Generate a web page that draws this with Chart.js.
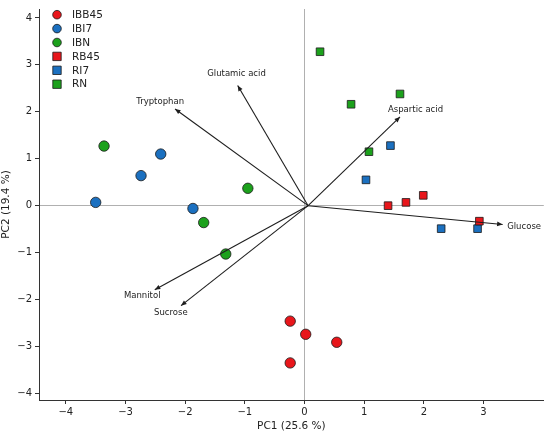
<!DOCTYPE html>
<html>
<head>
<meta charset="utf-8">
<script src="https://cdn.jsdelivr.net/npm/chart.js@4/dist/chart.umd.min.js"></script>
<style>
  html, body { margin: 0; padding: 0; background: #fff; }
  #wrap { width: 550px; height: 435px; }
</style>
</head>
<body>
<div id="wrap"><canvas id="pca" width="550" height="435"></canvas></div>
<script>
// scores (PC1, PC2) per group
const groups = ['IBB45', 'IBI7', 'IBN', 'RB45', 'RI7', 'RN'];
const ibb45 = [[-0.24, -2.46], [0.02, -2.74], [0.54, -2.91], [-0.24, -3.35]];
const ibi7 = [[-3.50, 0.07], [-2.74, 0.64], [-2.41, 1.10], [-1.87, -0.06]];
const ibn = [[-3.36, 1.27], [-0.95, 0.37], [-1.69, -0.36], [-1.32, -1.03]];
const rb45 = [[1.40, 0.00], [1.70, 0.07], [1.99, 0.22], [2.93, -0.33]];
const ri7 = [[1.44, 1.28], [1.03, 0.55], [2.29, -0.49], [2.90, -0.49]];
const rn = [[0.26, 3.28], [0.78, 2.16], [1.60, 2.38], [1.08, 1.15]];

// loadings (arrow tips) and where their labels sit
const variables = ['Glutamic acid', 'Tryptophan', 'Aspartic acid', 'Glucose', 'Mannitol', 'Sucrose'];
const arrowOrigin = [0.06, 0.0];
const arrowTips = [[-1.12, 2.56], [-2.17, 2.06], [1.60, 1.89], [3.32, -0.40], [-2.51, -1.79], [-2.07, -2.13]];
const labelPos = [[-1.14, 2.80], [-2.42, 2.22], [1.86, 2.04], [3.68, -0.44], [-2.72, -1.93], [-2.24, -2.28]];

const xTicks = [-4, -3, -2, -1, 0, 1, 2, 3];
const yTicks = [-4, -3, -2, -1, 0, 1, 2, 3, 4];

const RED = '#e8161b', BLUE = '#1b70c0', GREEN = '#1ca11c';
const FONT = "'DejaVu Sans', sans-serif";

function pts(arr) { return arr.map(p => ({ x: p[0], y: p[1] })); }
function ds(label, data, color, shape) {
  return {
    label: label, data: pts(data), pointStyle: shape,
    backgroundColor: color, borderColor: '#1a1a1a', borderWidth: 0.8,
    pointRadius: shape === 'circle' ? 5.2 : 5.4, pointHoverRadius: 5.2
  };
}
const fmt = v => (v < 0 ? '\u2212' + Math.abs(v) : '' + v);

// biplot arrows + labels
const arrows = {
  id: 'arrows',
  afterDatasetsDraw(chart) {
    const { ctx, scales: { x, y } } = chart;
    const ox = x.getPixelForValue(arrowOrigin[0]), oy = y.getPixelForValue(arrowOrigin[1]);
    ctx.save();
    ctx.strokeStyle = '#1e1e1e'; ctx.fillStyle = '#1e1e1e'; ctx.lineWidth = 1.1;
    arrowTips.forEach((t, i) => {
      const tx = x.getPixelForValue(t[0]), ty = y.getPixelForValue(t[1]);
      const a = Math.atan2(ty - oy, tx - ox);
      ctx.beginPath(); ctx.moveTo(ox, oy); ctx.lineTo(tx, ty); ctx.stroke();
      ctx.beginPath();
      ctx.moveTo(tx, ty);
      ctx.lineTo(tx - 6 * Math.cos(a - 0.4), ty - 6 * Math.sin(a - 0.4));
      ctx.lineTo(tx - 6 * Math.cos(a + 0.4), ty - 6 * Math.sin(a + 0.4));
      ctx.closePath(); ctx.fill();
      ctx.font = '8.5px ' + FONT;
      ctx.fillStyle = '#222';
      ctx.textAlign = 'center'; ctx.textBaseline = 'middle';
      ctx.fillText(variables[i], x.getPixelForValue(labelPos[i][0]), y.getPixelForValue(labelPos[i][1]));
      ctx.fillStyle = '#1e1e1e';
    });
    ctx.restore();
  }
};

// matplotlib style legend in upper left
const legendBox = {
  id: 'legendBox',
  afterDraw(chart) {
    const ctx = chart.ctx;
    ctx.save();
    chart.data.datasets.forEach((d, i) => {
      const cy = 14.7 + i * 13.9;
      ctx.fillStyle = d.backgroundColor; ctx.strokeStyle = '#1a1a1a'; ctx.lineWidth = 0.8;
      ctx.beginPath();
      if (d.pointStyle === 'circle') ctx.arc(57, cy, 4.3, 0, Math.PI * 2);
      else ctx.rect(52.8, cy - 4.2, 8.4, 8.4);
      ctx.fill(); ctx.stroke();
      ctx.fillStyle = '#222'; ctx.font = '10.5px ' + FONT;
      ctx.textAlign = 'left'; ctx.textBaseline = 'middle';
      ctx.fillText(d.label, 72, cy + 0.5);
    });
    ctx.restore();
  }
};

const zeroColor = c => (c.tick && c.tick.value === 0 ? '#b0b0b0' : 'rgba(0,0,0,0)');

new Chart(document.getElementById('pca'), {
  type: 'scatter',
  data: {
    datasets: [
      ds(groups[0], ibb45, RED, 'circle'),
      ds(groups[1], ibi7, BLUE, 'circle'),
      ds(groups[2], ibn, GREEN, 'circle'),
      ds(groups[3], rb45, RED, 'rect'),
      ds(groups[4], ri7, BLUE, 'rect'),
      ds(groups[5], rn, GREEN, 'rect')
    ]
  },
  options: {
    responsive: false,
    animation: false,
    devicePixelRatio: 1,
    layout: { padding: { top: 6, right: 3, left: 0, bottom: 0 } },
    plugins: { legend: { display: false }, tooltip: { enabled: false } },
    scales: {
      x: {
        type: 'linear', min: -4.45, max: 4.01,
        afterBuildTicks: s => { s.ticks = xTicks.map(v => ({ value: v })); },
        afterFit: s => { s.height = 35; },
        grid: { color: zeroColor, lineWidth: 1, tickColor: '#333', tickLength: 4, drawOnChartArea: true },
        border: { display: true, color: '#333', width: 1 },
        ticks: { color: '#222', font: { family: FONT, size: 10 }, padding: 2, callback: fmt, maxRotation: 0 },
        title: { display: true, text: 'PC1 (25.6 %)', color: '#222', font: { family: FONT, size: 10.5 }, padding: { top: 0, bottom: 2 } }
      },
      y: {
        type: 'linear', min: -4.14, max: 4.19,
        afterBuildTicks: s => { s.ticks = yTicks.map(v => ({ value: v })); },
        afterFit: s => { s.width = 39; },
        grid: { color: zeroColor, lineWidth: 1, tickColor: '#333', tickLength: 4 },
        border: { display: true, color: '#333', width: 1 },
        ticks: { color: '#222', font: { family: FONT, size: 10 }, padding: 3, callback: fmt },
        title: { display: true, text: 'PC2 (19.4 %)', color: '#222', font: { family: FONT, size: 10.5 }, padding: { top: 0, bottom: 0 } }
      }
    }
  },
  plugins: [arrows, legendBox]
});
</script>
</body>
</html>
